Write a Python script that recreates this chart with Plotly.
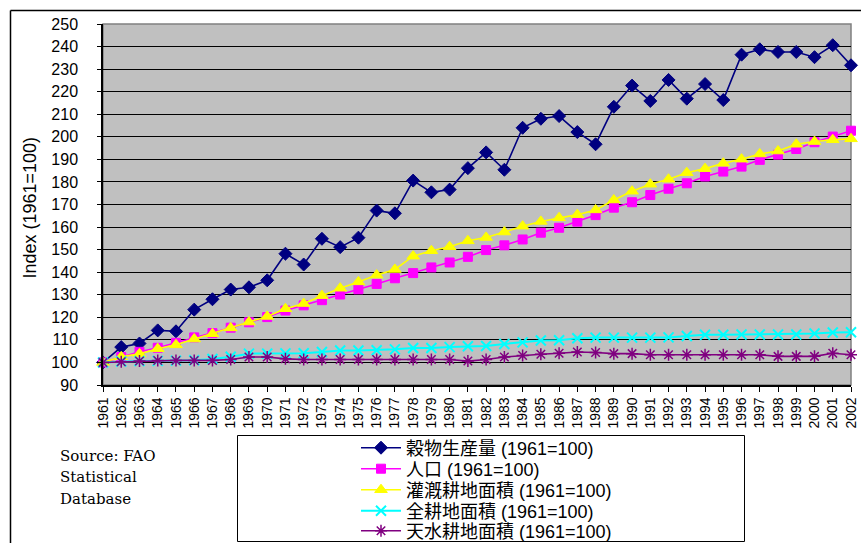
import plotly.graph_objects as go

# Years on the category axis
years = list(range(1961, 2003))
year_labels = [str(y) for y in years]

# Index values (1961 = 100)
cereal_production = [
    100, 106.8, 108.4, 114.2, 113.8, 123.4, 128.0, 132.3, 133.3, 136.4,
    148.2, 143.4, 154.8, 151.1, 155.3, 167.3, 166.1, 180.6, 175.4, 176.6,
    186.1, 193.1, 185.4, 204.0, 208.0, 209.2, 202.1, 196.7, 213.3, 222.7,
    215.9, 225.2, 216.9, 223.4, 216.3, 236.4, 238.8, 237.6, 237.6, 235.3,
    240.6, 231.7,
]
population = [
    100, 102.4, 104.7, 106.5, 108.7, 111.1, 113.0, 115.4, 117.8, 120.1,
    123.0, 125.3, 127.6, 130.1, 132.4, 134.8, 137.3, 139.6, 142.1, 144.3,
    146.8, 149.8, 151.9, 154.5, 157.5, 159.7, 162.4, 165.3, 168.6, 171.0,
    174.2, 177.0, 179.4, 182.4, 184.6, 186.8, 189.8, 192.1, 194.6, 197.6,
    200.1, 202.7,
]
irrigated_area = [
    100, 102.5, 103.8, 106.1, 107.8, 110.4, 112.7, 115.3, 117.9, 120.4,
    123.8, 126.1, 129.6, 132.9, 135.7, 138.7, 141.2, 147.1, 149.5, 151.3,
    153.9, 155.4, 157.8, 160.4, 162.5, 164.1, 165.5, 167.6, 172.0, 175.9,
    179.0, 181.2, 184.1, 185.9, 188.3, 190.1, 192.4, 193.7, 196.7, 197.9,
    198.7, 199.1,
]
total_arable_area = [
    100, 100.4, 100.6, 100.7, 100.8, 101.0, 101.5, 102.5, 103.9, 103.9,
    104.0, 104.1, 104.6, 105.3, 105.3, 105.4, 105.8, 106.4, 106.4, 106.8,
    107.2, 107.3, 108.2, 108.9, 109.7, 109.8, 110.7, 111.0, 111.0, 111.0,
    111.0, 111.1, 111.7, 112.3, 112.3, 112.4, 112.4, 112.4, 112.4, 112.8,
    113.3, 113.4,
]
rainfed_area = [
    100, 100.3, 100.6, 100.9, 100.9, 100.9, 100.9, 101.3, 102.4, 102.4,
    101.6, 101.3, 101.3, 101.3, 101.3, 101.3, 101.3, 101.3, 101.3, 101.3,
    100.6, 101.3, 102.4, 103.1, 103.6, 104.1, 104.6, 104.4, 103.9, 103.9,
    103.4, 103.4, 103.4, 103.4, 103.4, 103.4, 103.4, 102.7, 102.7, 102.7,
    104.1, 103.4,
]

series_names = [
    "穀物生産量 (1961=100)",
    "人口 (1961=100)",
    "灌漑耕地面積 (1961=100)",
    "全耕地面積 (1961=100)",
    "天水耕地面積 (1961=100)",
]
y_ticks = list(range(90, 260, 10))
source_lines = ["Source: FAO", "Statistical", "Database"]

W, H = 861, 543
ML, MR, MT, MB = 103, 10, 24, 158
PW, PH = W - ML - MR, H - MT - MB

SANS = "Liberation Sans, Arial, Noto Sans CJK JP, sans-serif"


def px(x):
    return (x - ML) / PW


def py(y):
    return (H - MB - y) / PH


styles = [
    dict(color="#000080", symbol="diamond", size=10, lw=1.6, mlw=1),
    dict(color="#FF00FF", symbol="square", size=9, lw=1.6, mlw=1),
    dict(color="#FFFF00", symbol="triangle-up", size=11, lw=1.6, mlw=1),
    dict(color="#00FFFF", symbol="x-thin", size=10, lw=2, mlw=2),
    dict(color="#800080", symbol="asterisk", size=10, lw=1.6, mlw=1.5),
]
values = [cereal_production, population, irrigated_area, total_arable_area, rainfed_area]
legend_ids = ["legend", "legend2", "legend3", "legend4", "legend5"]

fig = go.Figure()
for name, vals, st, lg in zip(series_names, values, styles, legend_ids):
    fig.add_trace(go.Scatter(
        x=years, y=vals, name=name, mode="lines+markers",
        line=dict(color=st["color"], width=st["lw"]),
        marker=dict(symbol=st["symbol"], size=st["size"], color=st["color"],
                    line=dict(color=st["color"], width=st["mlw"])),
        cliponaxis=False, legend=lg,
    ))

# one legend per row so the row pitch can follow the boxed key
row_centers = [448, 469, 490, 511, 531]
legend_layouts = {}
for lg, yc in zip(legend_ids, row_centers):
    legend_layouts[lg] = dict(
        x=px(356), xanchor="left", y=py(yc), yanchor="middle",
        bgcolor="rgba(0,0,0,0)", borderwidth=0,
        font=dict(family=SANS, size=18, color="#000"),
        itemwidth=40,
    )

shapes = [
    # chart frame
    dict(type="line", xref="paper", yref="paper", x0=px(10.5), x1=px(10.5),
         y0=py(10.5), y1=py(600), line=dict(color="#000", width=1.5)),
    dict(type="line", xref="paper", yref="paper", x0=px(10.5), x1=px(900),
         y0=py(10.5), y1=py(10.5), line=dict(color="#000", width=1.5)),
    # plot area border
    dict(type="rect", xref="paper", yref="paper", x0=0, x1=1, y0=0, y1=1,
         line=dict(color="#808080", width=1.5), layer="between"),
    # key box
    dict(type="rect", xref="paper", yref="paper", x0=px(237.5), x1=px(744.5),
         y0=py(435.5), y1=py(541.5), line=dict(color="#000", width=1)),
]

annotations = [
    dict(text="Index (1961=100)", xref="paper", yref="paper", x=px(29.5), y=py(208),
         textangle=-90, showarrow=False, xanchor="center", yanchor="middle",
         font=dict(family=SANS, size=18, color="#000")),
]
for line_text, yc in zip(source_lines, [456, 477, 499]):
    annotations.append(dict(
        text=line_text, xref="paper", yref="paper", x=px(58), y=py(yc),
        xanchor="left", yanchor="middle", showarrow=False,
        font=dict(family="DejaVu Serif, Liberation Serif, serif", size=15, color="#000"),
    ))

fig.update_layout(
    width=W, height=H,
    margin=dict(l=ML, r=MR, t=MT, b=MB, pad=0, autoexpand=False),
    paper_bgcolor="#FFFFFF", plot_bgcolor="#C0C0C0",
    showlegend=True,
    xaxis=dict(
        range=[1961, 2002], tickmode="array", tickvals=years, ticktext=year_labels,
        tickangle=-90, ticks="outside", ticklen=5, tickcolor="#000",
        showline=True, linecolor="#000", linewidth=1.5, showgrid=False, zeroline=False,
        tickfont=dict(family=SANS, size=14, color="#000"),
    ),
    yaxis=dict(
        range=[90, 250], tickmode="array", tickvals=y_ticks,
        ticks="outside", ticklen=4, tickcolor="#000",
        showline=True, linecolor="#000", linewidth=1.5,
        showgrid=True, gridcolor="#000", gridwidth=1, zeroline=False,
        tickfont=dict(family=SANS, size=16, color="#000"), ticklabelstandoff=16,
    ),
    shapes=shapes, annotations=annotations,
    **legend_layouts,
)

fig.write_html("out.html")
